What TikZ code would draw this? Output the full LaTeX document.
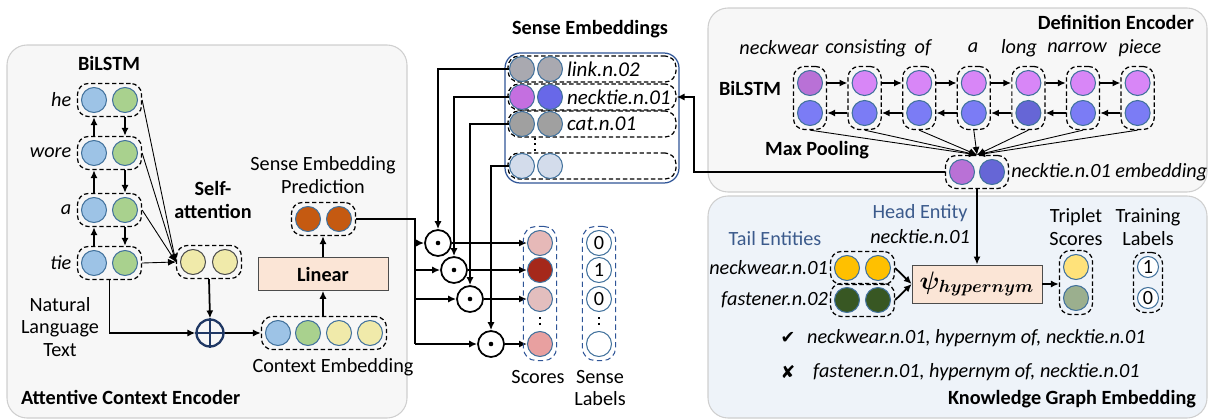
\documentclass[tikz,border=0pt]{standalone}
\usepackage{bm}
\usepackage{fontspec}
\setmainfont{Carlito}[Scale=1.15]
\newfontfamily\symbolfont{DejaVu Sans}
\usetikzlibrary{arrows.meta,fit,positioning}

\definecolor{panelgray}{HTML}{F7F7F7}
\definecolor{panelblue}{HTML}{EEF3F9}
\definecolor{panelline}{HTML}{CFCFCF}
\definecolor{cellline}{HTML}{41719C}
\definecolor{lstmblue}{HTML}{9DC3E6}
\definecolor{lstmgreen}{HTML}{A9D18E}
\definecolor{attyellow}{HTML}{F0EAAA}
\definecolor{predorange}{HTML}{C55A11}
\definecolor{linearfill}{HTML}{FBE5D6}
\definecolor{navy}{HTML}{203864}
\definecolor{defpink}{HTML}{D886F7}
\definecolor{defpinkdark}{HTML}{B971D6}
\definecolor{defblue}{HTML}{7B7CF5}
\definecolor{defbluedark}{HTML}{6666D6}
\definecolor{senseblue}{HTML}{2F5597}
\definecolor{headblue}{HTML}{3B5A8C}
\definecolor{linkgray}{HTML}{A9A9B0}
\definecolor{sensepink}{HTML}{C46FE0}
\definecolor{senseviolet}{HTML}{6868E8}
\definecolor{catgray}{HTML}{A0A0A0}
\definecolor{blankblue}{HTML}{D3DCEB}
\definecolor{scoreA}{HTML}{E6B9B8}
\definecolor{scoreB}{HTML}{A5281B}
\definecolor{scoreC}{HTML}{E3BEBE}
\definecolor{scoreD}{HTML}{E8A0A0}
\definecolor{kgyellow}{HTML}{FFC000}
\definecolor{kggreen}{HTML}{385723}
\definecolor{tripyellow}{HTML}{FFE27A}
\definecolor{tripgreen}{HTML}{9BAF8E}

\tikzset{
  cell/.style={circle, draw=cellline, line width=0.6pt, minimum size=0.5cm, inner sep=0pt},
  pairbox/.style={draw, line width=0.7pt, dash pattern=on 2.5pt off 1.5pt, rounded corners=0.22cm, inner sep=2pt},
  colbox/.style={draw=senseblue, line width=0.6pt, densely dashed, rounded corners=0.25cm, inner sep=2pt},
  rowbox/.style={draw, line width=0.7pt, dash pattern=on 2.5pt off 1.5pt, rounded corners=0.22cm, minimum width=3.36cm, minimum height=0.52cm},
  panel/.style={draw=panelline, line width=0.6pt, rounded corners=0.4cm},
  opbox/.style={draw=black!70, fill=linearfill, minimum width=2.6cm, minimum height=0.66cm},
  dotop/.style={circle, draw, line width=1pt, minimum size=0.52cm, inner sep=0pt},
  labelcell/.style={cell, fill=white},
  arr/.style={-{Latex[length=4.5pt,width=4pt]}, line width=1pt},
  thinarr/.style={-{Latex[length=4.5pt,width=4pt]}, line width=0.5pt},
  heading/.style={font=\bfseries},
  word/.style={font=\itshape, inner sep=1pt},
}

\begin{document}
\begin{tikzpicture}[x=0.02cm, y=-0.02cm]
    \useasboundingbox (0,0) rectangle (1210,419);
    % panels
    \draw[panel, fill=panelgray] (7,45) rectangle (407,418);
    \draw[panel, fill=panelgray] (708,8) rectangle (1207,192);
    \draw[panel, fill=panelblue] (708,196) rectangle (1207,418);

    % attentive context encoder
    \node[heading] (lstmtitle) at (109,63) {BiLSTM};
    \foreach \w/\y in {he/100, wore/153, a/210, tie/263} {
        \node[cell, fill=lstmblue] (\w-f) at (94,\y) {};
        \node[cell, fill=lstmgreen] (\w-b) at (125,\y) {};
        \node[pairbox, fit=(\w-f)(\w-b)] (\w) {};
        \node[word, left=2pt of \w] (\w-txt) {\w};
    }
    \foreach \u/\l in {he/wore, wore/a, a/tie} {
        \draw[arr] (\l.north -| \l-f) -- (\u.south -| \l-f);
        \draw[arr] (\u.south -| \u-b) -- (\l.north -| \u-b);
    }
    \node[cell, fill=attyellow, draw=black!70] (att-1) at (193,262) {};
    \node[cell, fill=attyellow, draw=black!70] (att-2) at (225,262) {};
    \node[pairbox, fit=(att-1)(att-2)] (att) {};
    \node[heading, align=center] (atttitle) at (213,200) {Self-\\[1.5pt]attention};
    \foreach \w in {he, wore, a, tie}
        \draw[thinarr] (\w.east) -- (att.west);
    \node[circle, draw=navy, line width=1.3pt, minimum size=0.54cm] (plus) at (210,333) {};
    \draw[navy, line width=1.3pt] (plus.north) -- (plus.south) (plus.west) -- (plus.east);
    \draw[arr] (att.south) -- (plus.north);
    \draw[arr] (tie.south) |- (plus.west);
    \node[align=center] (nlt) at (60,327) {Natural\\[1pt]Language\\[1pt]Text};
    \foreach \c/\x in {lstmblue/278, lstmgreen/308, attyellow/339, attyellow/370}
        \node[cell, fill=\c] (ctx-\x) at (\x,333) {};
    \node[pairbox, fit=(ctx-278)(ctx-370)] (ctx) {};
    \node (ctxtxt) at (333,367) {Context Embedding};
    \draw[arr] (plus.east) -- (ctx.west);
    \node[opbox, font=\bfseries] (linear) at (323,274) {Linear};
    \draw[arr] (linear.south |- ctx.north) -- (linear.south);
    \node[cell, fill=predorange] (pred-1) at (308,219) {};
    \node[cell, fill=predorange] (pred-2) at (339,219) {};
    \node[pairbox, fit=(pred-1)(pred-2)] (pred) {};
    \node[align=center] (predtxt) at (323,175) {Sense Embedding\\[1pt]Prediction};
    \draw[arr] (linear.north) -- (linear.north |- pred.south);
    \node[heading, anchor=west] (acetitle) at (14,397) {Attentive Context Encoder};

    % dot products and scores
    \foreach \i/\x/\y in {1/438/243, 2/454/270, 3/470/299, 4/491/344} {
        \node[dotop] (dot\i) at (\x,\y) {};
        \fill (dot\i) circle (1.3pt);
    }
    \coordinate (fork) at (415,219);
    \draw[line width=1pt] (pred.east) -- (fork) -- (fork |- dot4);
    \foreach \i/\y/\c/\lab in {1/243/scoreA/0, 2/270/scoreB/1, 3/299/scoreC/0, 4/344/scoreD/{}} {
        \draw[arr] (fork |- dot\i) -- (dot\i.west);
        \node[cell, fill=\c] (sc\i) at (540,\y) {};
        \draw[arr] (dot\i.east) -- (sc\i.west);
        \node[labelcell] (lb\i) at (599,\y) {\lab};
    }
    \draw[dotted, line width=1.2pt, shorten <=3pt, shorten >=3pt] (sc3.south) -- (sc4.north);
    \draw[dotted, line width=1.2pt, shorten <=3pt, shorten >=3pt] (lb3.south) -- (lb4.north);
    \node[colbox, fit=(sc1)(sc4)] (scores) {};
    \node[colbox, fit=(lb1)(lb4)] (labels) {};
    \node (scorestxt) at (538,377) {Scores};
    \node[align=center] (labelstxt) at (600,388) {Sense\\[1pt]Labels};

    % sense embeddings
    \node[heading] (sensetitle) at (590,29) {Sense Embeddings};
    \node[draw=senseblue, line width=0.7pt, rounded corners=0.3cm, minimum width=3.48cm, minimum height=2.6cm] (senses) at (592,118) {};
    \foreach \nm/\y/\ca/\cb/\lab in {link/69/linkgray/linkgray/link.n.02, necktie/97/sensepink/senseviolet/necktie.n.01, cat/124/catgray/catgray/cat.n.01, blank/166/blankblue/blankblue/{}} {
        \node[rowbox] (\nm) at (592,\y) {};
        \node[cell, fill=\ca] (\nm-1) at (522,\y) {};
        \node[cell, fill=\cb] (\nm-2) at (550,\y) {};
        \node[word, anchor=west, font=\itshape\fontsize{10.4}{12}\selectfont] (\nm-txt) at (565,\y) {\lab};
    }
    \draw[dotted, line width=1.2pt] (cat.south -| cat-1.east) -- (blank.north -| cat-1.east);
    \draw[arr] (link-1.west) -| (dot1.north);
    \draw[arr] (necktie-1.west) -| (dot2.north);
    \draw[arr] (cat-1.west) -| (dot3.north);
    \draw[arr] (blank-1.west) -| (dot4.north);

    % definition encoder
    \node[heading, anchor=east] (deftitle) at (1201,22) {Definition Encoder};
    \node[heading] (deflstm) at (750,88) {BiLSTM};
    \node[heading] (maxpool) at (817,150) {Max Pooling};
    \foreach \i/\w/\wx/\ct/\cb in {1/neckwear/779/defpinkdark/defblue, 2/consisting/866/defpink/defblue, 3/of/923/defpink/defblue, 4/a/973/defpink/defblue, 5/long/1019/defpink/defbluedark, 6/narrow/1077/defpink/defblue, 7/piece/1140/defpink/defblue} {
        \pgfmathsetmacro\cx{810+54.6*(\i-1)}
        \node[cell, fill=\ct] (d\i-f) at (\cx,83) {};
        \node[cell, fill=\cb] (d\i-b) at (\cx,113) {};
        \node[pairbox, fit=(d\i-f)(d\i-b)] (d\i) {};
        \node[word] (w\i) at (\wx,48) {\w};
    }
    \foreach \i [evaluate=\i as \j using int(\i+1)] in {1,...,6} {
        \draw[arr] (d\i.east |- d\i-f) -- (d\j.west |- d\j-f);
        \draw[arr] (d\j.west |- d\j-b) -- (d\i.east |- d\i-b);
    }
    \node[cell, fill=defpinkdark] (emb-1) at (962,172) {};
    \node[cell, fill=defbluedark] (emb-2) at (992,172) {};
    \node[pairbox, fit=(emb-1)(emb-2)] (emb) {};
    \node[word, anchor=west] (embtxt) at (emb.east) {necktie.n.01 embedding};
    \foreach \i in {1,...,7}
        \draw[thinarr] (d\i.south) -- (emb.north);
    \coordinate (bend) at (694,172);
    \draw[arr] (emb.west) -- (bend) |- (necktie.east);

    % knowledge graph embedding
    \node[opbox, font=\Large] (psibox) at (977,284) {$\bm{\psi_{hypernym}}$};
    \draw[arr] (emb.south) -- (emb.south |- psibox.north);
    \node[text=headblue] (headtxt) at (920,213) {Head Entity};
    \node[word] (headname) at (920,237) {necktie.n.01};
    \node[text=headblue] (tailtxt) at (775,239) {Tail Entities};
    \foreach \nm/\y/\c/\lab in {nw/268/kgyellow/neckwear.n.01, fs/300/kggreen/fastener.n.02} {
        \node[cell, fill=\c] (\nm-1) at (847,\y) {};
        \node[cell, fill=\c] (\nm-2) at (878,\y) {};
        \node[pairbox, fit=(\nm-1)(\nm-2)] (\nm) {};
        \node[word, left=0pt of \nm] (\nm-txt) {\lab};
        \draw[arr] (\nm.east) -- (psibox.west);
    }
    \node[cell, fill=tripyellow] (tr-1) at (1076,267) {};
    \node[cell, fill=tripgreen] (tr-2) at (1076,298) {};
    \node[pairbox, fit=(tr-1)(tr-2)] (tr) {};
    \draw[arr] (psibox.east) -- (psibox.east -| tr.west);
    \node[align=center] (trtxt) at (1076,227) {Triplet\\[1pt]Scores};
    \node[labelcell, minimum size=0.42cm] (tl-1) at (1148,267) {1};
    \node[labelcell, minimum size=0.42cm] (tl-2) at (1148,298) {0};
    \node[pairbox, fit=(tl-1)(tl-2)] (tl) {};
    \node[align=center] (tltxt) at (1148,227) {Training\\[1pt]Labels};
    \node (okmark) at (788,338) {\symbolfont ✔};
    \node[word, anchor=west] (oktxt) at (805,338) {neckwear.n.01, hypernym of, necktie.n.01};
    \node (nomark) at (788,372) {\symbolfont ✘};
    \node[word, anchor=west] (notxt) at (811,372) {fastener.n.01, hypernym of, necktie.n.01};
    \node[heading, anchor=east] (kgtitle) at (1203,399) {Knowledge Graph Embedding};
\end{tikzpicture}
\end{document}
